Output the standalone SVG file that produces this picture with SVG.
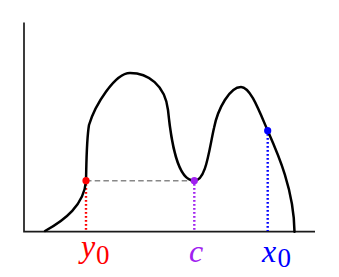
<svg xmlns="http://www.w3.org/2000/svg" width="339" height="277" viewBox="0 0 339 277">
<style>
.axis{stroke:#1a1a1a;stroke-width:1.7;fill:none}
.curve{stroke:#000;stroke-width:2.5;fill:none;stroke-linecap:round}
.dot{stroke-width:2.4;stroke-dasharray:1.8 2.2;fill:none}
.dash{stroke:#888;stroke-width:1.5;stroke-dasharray:5.5 3.2;fill:none}
.lbl{font-family:"Liberation Serif",serif;font-style:italic;font-size:32px}
.sub{font-family:"Liberation Serif",serif;font-size:27px}
</style>
<rect width="339" height="277" fill="#fff"/>
<g id="axes">
<path class="axis" d="M24,22.5V231.7H315"/>
</g>
<g id="connectors">
<path class="dash" d="M86,180.7H194"/>
<path class="dot" stroke="#ff0000" d="M86,184V231"/>
<path class="dot" stroke="#a020f0" d="M194.3,184V231"/>
<path class="dot" stroke="#0000ff" d="M267.7,134V231"/>
</g>
<g id="curve">
<path class="curve" d="M45,231C65,220 84,205 86,181C86.5,160 86.5,140 89,125C95,105 115,73 130,73C148,73 165,85 168,110C171,140 177,181 194.3,180.7C206,181 209,150 214,128C218,108 230,87 241,87C250,87 258,108 267.7,130.7C278,154 294,190 294.5,231.7"/>
</g>
<g id="point-y0">
<circle cx="86" cy="180.7" r="3.6" fill="#ff0000"/>
<text x="81" y="257" class="lbl" fill="#ff0000">y</text>
<text x="96" y="264" class="sub" fill="#ff0000">0</text>
</g>
<g id="point-c">
<circle cx="194.3" cy="180.7" r="3.6" fill="#a020f0"/>
<text x="189" y="261.5" class="lbl" fill="#a020f0">c</text>
</g>
<g id="point-x0">
<circle cx="267.7" cy="130.7" r="3.6" fill="#0000ff"/>
<text x="262" y="261.5" class="lbl" fill="#0000ff">x</text>
<text x="277.5" y="267" class="sub" fill="#0000ff">0</text>
</g>
</svg>
